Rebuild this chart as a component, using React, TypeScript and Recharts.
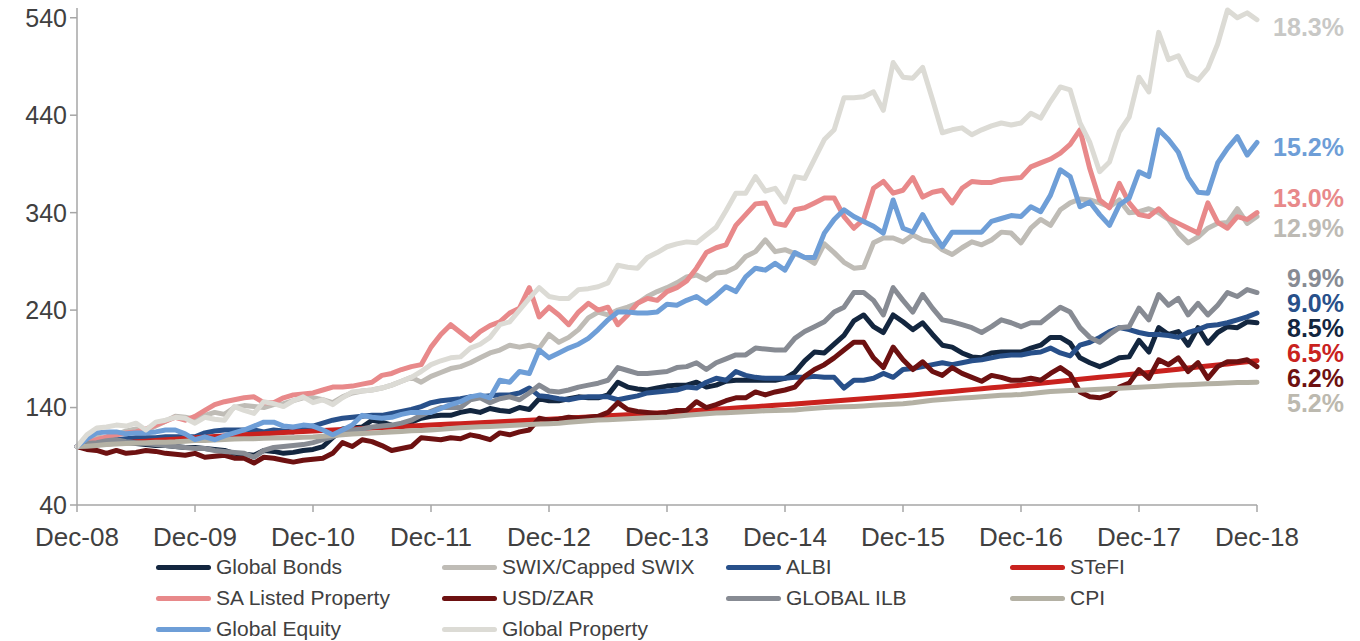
import { LineChart, Line, XAxis, YAxis } from 'recharts';

const monthNames = ['Jan', 'Feb', 'Mar', 'Apr', 'May', 'Jun', 'Jul', 'Aug', 'Sep', 'Oct', 'Nov', 'Dec'];

// monthly points, Dec-08 .. Dec-18
const months = Array.from({ length: 121 }, (_, i) => {
  const n = 11 + i;
  const yr = 8 + Math.floor(n / 12);
  return `${monthNames[n % 12]}-${String(yr).padStart(2, '0')}`;
});

const yTicks = [40, 140, 240, 340, 440, 540];

// index levels, Dec-08 = 100
const globalBonds = [
  100, 101, 102, 104, 105, 104, 103, 102, 101, 101, 100, 99,
  99, 98, 97, 96, 93, 92, 91, 96, 95, 93, 94, 96,
  97, 100, 109, 118, 119, 120, 127, 125, 122, 120, 125, 129,
  131, 132, 132, 135, 137, 135, 139, 137, 136, 140, 138, 149,
  147, 147, 149, 151, 150, 150, 153, 166, 161, 159, 158, 160,
  162, 163, 163, 166, 161, 163, 167, 168, 168, 168, 168, 168,
  170, 176, 188, 197, 196, 205, 214, 229, 235, 223, 217, 235,
  228, 220, 227, 215, 204, 202, 196, 192, 191, 196, 197, 197,
  197, 201, 204, 212, 212, 206, 191, 186, 182, 186, 191, 192,
  209, 197, 222, 215, 218, 204, 222, 206, 217, 223, 222, 228,
  227,
];

const swix = [
  100, 106, 110, 108, 112, 116, 118, 116, 121, 126, 131, 130,
  128, 132, 135, 133, 140, 142, 141, 140, 143, 144, 147, 150,
  150, 148, 145, 151, 155, 157, 158, 160, 163, 167, 171, 166,
  172, 176, 180, 182, 186, 191, 196, 199, 204, 202, 204, 201,
  215, 207, 212, 220, 232, 238, 235, 240, 243, 247, 254, 259,
  263, 268, 274, 276, 271, 278, 279, 284, 295, 300, 312, 300,
  302, 298, 294, 288, 308, 299, 289, 283, 284, 309, 314, 314,
  310, 317, 312, 310, 302, 297, 304, 310, 307, 312, 320, 319,
  309, 324, 333, 327, 343, 350, 354, 353, 350, 346, 353, 340,
  341, 344, 340, 333, 319, 309, 315, 324, 329, 330, 344, 329,
  336,
];

const albi = [
  100, 103, 105, 106, 107, 108, 109, 109, 109, 110, 110, 110,
  110, 114, 116, 117, 117, 117, 117, 115, 117, 116, 115, 119,
  121, 124, 127, 129, 130, 131, 132, 132, 134, 136, 138, 141,
  145, 147, 148, 149, 151, 151, 152, 153, 153, 155, 160, 152,
  151, 149, 148, 150, 151, 151, 151, 148, 150, 152, 155, 156,
  157, 158, 161, 160, 166, 170, 168, 177, 173, 171, 170, 170,
  170, 171, 171, 172, 171, 171, 160, 168, 168, 170, 175, 171,
  179, 180, 182, 184, 186, 184, 186, 188, 189, 191, 193, 194,
  194, 196, 197, 201, 196, 193, 204, 207, 212, 218, 222, 220,
  217, 215, 215, 214, 212, 217, 220, 224, 225, 227, 230, 233,
  237,
];

const stefi = [
  100, 100.9, 101.7, 102.5, 103.3, 104.0, 104.8, 105.5, 106.2, 106.9, 107.6, 108.3,
  109.0, 109.6, 110.2, 110.8, 111.4, 112.0, 112.6, 113.1, 113.7, 114.3, 114.8, 115.4,
  116.0, 116.5, 117.0, 117.5, 118.0, 118.5, 119.0, 119.5, 120.0, 120.5, 121.0, 121.5,
  122.0, 122.5, 123.0, 123.5, 124.0, 124.5, 125.0, 125.5, 126.0, 126.5, 127.0, 127.5,
  128.0, 128.6, 129.2, 129.8, 130.3, 130.9, 131.5, 132.1, 132.7, 133.2, 133.8, 134.4,
  135.0, 135.6, 136.3, 136.9, 137.6, 138.3, 138.9, 139.6, 140.3, 140.9, 141.6, 142.3,
  143.0, 143.7, 144.4, 145.2, 145.9, 146.7, 147.4, 148.2, 149.0, 149.7, 150.5, 151.3,
  152.0, 152.9, 153.8, 154.7, 155.6, 156.5, 157.5, 158.4, 159.3, 160.2, 161.1, 162.0,
  163.0, 164.0, 165.0, 166.0, 167.0, 168.0, 169.0, 170.0, 171.0, 172.0, 173.0, 174.0,
  175.0, 176.1, 177.2, 178.3, 179.4, 180.5, 181.6, 182.7, 183.8, 184.8, 185.9, 187.0,
  188.0,
];

const saListedProperty = [
  100, 104, 107, 110, 112, 114, 115, 118, 122, 126, 130, 127,
  131, 137, 143, 146, 148, 150, 151, 145, 145, 150, 153, 154,
  155, 158, 161, 161, 162, 164, 166, 173, 175, 179, 182, 184,
  202, 215, 225, 217, 209, 218, 224, 228, 237, 242, 263, 233,
  243, 235, 225, 238, 247, 240, 243, 225, 235, 247, 252, 250,
  259, 263, 270, 283, 299, 304, 307, 327, 338, 349, 350, 329,
  327, 343, 345, 350, 355, 355, 336, 324, 333, 365, 372, 360,
  363, 376, 356, 361, 363, 350, 365, 372, 371, 371, 374, 375,
  376, 387, 391, 395, 401, 410, 425, 385, 353, 345, 370, 350,
  338, 336, 344, 334, 329, 324, 319, 350, 330, 324, 336, 333,
  340,
];

const usdZar = [
  100, 97, 96, 93, 96, 93, 94, 96, 95, 93, 92, 91,
  93, 89, 90, 91, 88, 88, 83, 89, 88, 86, 84, 86,
  87, 88, 93, 104, 100, 107, 105, 101, 96, 98, 100, 109,
  108, 107, 109, 108, 112, 110, 107, 114, 112, 115, 117, 129,
  127, 128, 130, 129, 130, 131, 135, 145, 138, 136, 135, 134,
  135, 137, 137, 146, 140, 143, 147, 150, 150, 156, 153, 156,
  158, 161, 172, 179, 184, 191, 199, 207, 207, 191, 181, 202,
  189, 179, 187, 177, 173, 181, 175, 171, 167, 173, 171, 168,
  168, 170, 168, 175, 181, 174, 156, 151, 150, 153, 161, 165,
  179, 170, 189, 184, 191, 177, 186, 170, 182, 187, 187, 189,
  182,
];

const globalIlb = [
  100, 103, 104, 106, 107, 105, 104, 103, 102, 101, 100, 99,
  98, 98, 96, 95, 94, 93, 89, 96, 99, 100, 101, 102,
  104, 107, 110, 114, 117, 118, 120, 121, 122, 124, 127, 132,
  136, 140, 140, 140, 148, 150, 145, 149, 151, 148, 155, 163,
  157, 156, 158, 161, 163, 165, 168, 181, 178, 175, 175, 176,
  177, 181, 182, 186, 179, 186, 190, 194, 194, 201, 200, 199,
  199, 211, 218, 223, 228, 238, 243, 258, 258, 250, 235, 263,
  250, 238, 256, 242, 230, 228, 225, 222, 217, 223, 230, 227,
  223, 227, 227, 235, 243, 238, 222, 212, 207, 215, 222, 223,
  242, 230, 256, 245, 252, 235, 247, 235, 245, 258, 254, 261,
  258,
];

const cpi = [
  100, 100.4, 101.1, 102.0, 102.6, 103.0, 103.4, 103.9, 104.3, 104.5, 104.8, 105.5,
  106.1, 106.3, 106.8, 107.3, 107.8, 108.0, 108.1, 108.4, 108.7, 108.9, 109.1, 109.4,
  109.8, 110.5, 111.3, 112.2, 112.9, 113.4, 113.8, 114.4, 114.9, 115.5, 116.1, 116.5,
  117.0, 117.6, 118.4, 119.3, 119.9, 120.3, 120.6, 121.1, 121.7, 122.2, 122.7, 123.0,
  123.4, 124.0, 124.9, 125.8, 126.5, 127.1, 127.5, 128.0, 128.6, 129.1, 129.6, 129.9,
  130.2, 131.0, 132.0, 132.9, 133.6, 134.3, 134.7, 135.2, 135.8, 136.3, 136.7, 136.9,
  137.1, 137.6, 138.4, 139.3, 140.0, 140.5, 140.9, 141.2, 141.7, 142.3, 142.9, 143.5,
  144.0, 144.9, 146.1, 147.4, 148.3, 149.1, 149.8, 150.3, 151.0, 151.8, 152.5, 153.0,
  153.5, 154.3, 155.4, 156.4, 157.1, 157.4, 157.7, 158.2, 158.7, 159.3, 159.9, 160.4,
  160.9, 161.3, 161.9, 162.6, 163.1, 163.4, 163.8, 164.3, 164.8, 165.2, 165.6, 165.8,
  166.0,
];

const globalEquity = [
  100, 108, 114, 115, 115, 113, 114, 114, 115, 117, 117, 113,
  107, 110, 107, 111, 114, 117, 121, 125, 125, 121, 120, 122,
  121, 117, 112, 117, 122, 132, 130, 129, 130, 133, 135, 135,
  135, 139, 143, 146, 151, 153, 150, 168, 166, 177, 175, 199,
  191, 196, 201, 205, 211, 220, 230, 238, 238, 237, 237, 238,
  246, 245, 250, 254, 247, 255, 264, 259, 274, 283, 281, 288,
  281, 299, 294, 294, 319, 333, 343, 336, 331, 326, 319, 353,
  324, 320, 338, 320, 305, 320, 320, 320, 320, 331, 334, 337,
  336, 346, 341, 358, 384, 377, 346, 351, 338, 327, 348, 355,
  382, 377, 425, 415, 402, 376, 361, 360, 391, 406, 418, 399,
  412,
];

const globalProperty = [
  100, 112, 119, 120, 122, 121, 124, 117, 125, 127, 130, 129,
  124, 130, 128, 127, 141, 137, 134, 146, 144, 141, 147, 151,
  145, 148, 143, 150, 156, 157, 158, 160, 163, 167, 171, 177,
  184, 188, 191, 192, 201, 205, 212, 225, 228, 240, 252, 263,
  254, 252, 252, 261, 262, 264, 268, 286, 284, 283, 294, 299,
  305, 308, 310, 309, 317, 325, 342, 360, 360, 377, 362, 365,
  351, 377, 375, 395, 415, 425, 458, 458, 459, 464, 445, 494,
  479, 478, 489, 456, 422, 425, 427, 420, 425, 429, 432, 430,
  432, 442, 437, 454, 469, 466, 432, 412, 382, 392, 423, 438,
  479, 464, 525, 497, 501, 481, 476, 488, 513, 548, 540, 545,
  538,
];

const series = [
  { key: 'globalBonds', name: 'Global Bonds', color: '#13263f', labelColor: '#13263f', labelY: 328, data: globalBonds },
  { key: 'swix', name: 'SWIX/Capped SWIX', color: '#bfbcb6', labelColor: '#bdbab4', labelY: 228, data: swix },
  { key: 'albi', name: 'ALBI', color: '#28508a', labelColor: '#28508a', labelY: 303, data: albi },
  { key: 'stefi', name: 'STeFI', color: '#c9221e', labelColor: '#c9221e', labelY: 353, data: stefi },
  { key: 'saListedProperty', name: 'SA Listed Property', color: '#e8898a', labelColor: '#e8898a', labelY: 198, data: saListedProperty },
  { key: 'usdZar', name: 'USD/ZAR', color: '#6d1111', labelColor: '#6d1111', labelY: 378, data: usdZar },
  { key: 'globalIlb', name: 'GLOBAL ILB', color: '#878b93', labelColor: '#878b93', labelY: 278, data: globalIlb },
  { key: 'cpi', name: 'CPI', color: '#b4b1a4', labelColor: '#bcb9af', labelY: 403, data: cpi },
  { key: 'globalEquity', name: 'Global Equity', color: '#6e9ed7', labelColor: '#6e9ed7', labelY: 147, data: globalEquity },
  { key: 'globalProperty', name: 'Global Property', color: '#dcdbd5', labelColor: '#c8c8c6', labelY: 27, data: globalProperty },
];

const rows = months.map((month, i) => {
  const row: Record<string, string | number> = { month };
  series.forEach((s) => {
    row[s.key] = s.data[i];
  });
  return row;
});

const years = (months.length - 1) / 12;
// annualised return over the whole period
const cagr = (data: number[]) =>
  `${((Math.pow(data[data.length - 1] / data[0], 1 / years) - 1) * 100).toFixed(1)}%`;

const FONT = '"Liberation Sans", Arial, Helvetica, sans-serif';
const AXIS = '#a6a6a6';
const TEXT = '#404040';

const legendCols = [156, 442, 726, 1010];
const legendRows = [567, 598, 629];

export default function App() {
  return (
    <div
      style={{
        position: 'absolute',
        left: 0,
        top: 0,
        width: 1360,
        height: 641,
        background: '#fff',
        fontFamily: FONT,
        overflow: 'hidden',
      }}
    >
      <LineChart width={1360} height={641} data={rows} margin={{ top: 8, right: 103, bottom: 86, left: 0 }}>
        <XAxis
          dataKey="month"
          interval={11}
          height={50}
          tickSize={7}
          tickMargin={16}
          padding={{ left: 0, right: 0 }}
          axisLine={{ stroke: AXIS, strokeWidth: 1.5 }}
          tickLine={{ stroke: AXIS, strokeWidth: 1.5 }}
          tick={{ fill: TEXT, fontSize: 26 }}
        />
        <YAxis
          width={77}
          domain={[40, 550]}
          ticks={yTicks}
          interval={0}
          tickSize={7}
          tickMargin={3}
          axisLine={{ stroke: AXIS, strokeWidth: 1.5 }}
          tickLine={{ stroke: AXIS, strokeWidth: 1.5 }}
          tick={{ fill: TEXT, fontSize: 25 }}
        />
        {series.map((s) => (
          <Line
            key={s.key}
            type="linear"
            dataKey={s.key}
            name={s.name}
            stroke={s.color}
            strokeWidth={5}
            strokeLinejoin="round"
            strokeLinecap="round"
            dot={false}
            activeDot={false}
            isAnimationActive={false}
          />
        ))}
      </LineChart>

      {/* return labels down the right-hand side */}
      <svg width={1360} height={641} style={{ position: 'absolute', left: 0, top: 0, pointerEvents: 'none' }}>
        {series.map((s) => (
          <text
            key={s.key}
            x={1344}
            y={s.labelY + 9}
            textAnchor="end"
            fontSize={25}
            fontWeight="bold"
            fill={s.labelColor}
            fontFamily={FONT}
          >
            {cagr(s.data)}
          </text>
        ))}
      </svg>

      {series.map((s, i) => (
        <div
          key={s.key}
          style={{
            position: 'absolute',
            left: legendCols[i % 4],
            top: legendRows[Math.floor(i / 4)] - 12,
            height: 24,
            display: 'flex',
            alignItems: 'center',
            whiteSpace: 'nowrap',
          }}
        >
          <div style={{ width: 55, height: 5, borderRadius: 3, background: s.color }} />
          <span style={{ marginLeft: 5, fontSize: 21, color: TEXT, lineHeight: '24px' }}>{s.name}</span>
        </div>
      ))}
    </div>
  );
}
